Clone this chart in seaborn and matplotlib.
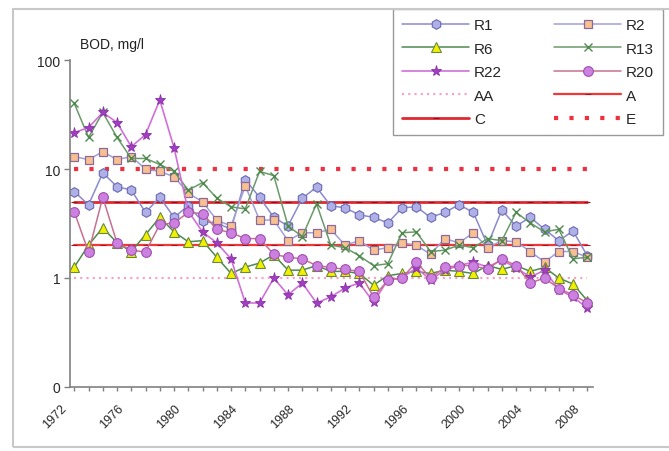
import numpy as np
import pandas as pd
import matplotlib
matplotlib.use("Agg")
import matplotlib.pyplot as plt
import matplotlib.ticker as mticker
import matplotlib.transforms as mtransforms
from matplotlib.patches import Rectangle
import seaborn as sns

# BOD, mg/l per station, 1972-2008
years = list(range(1972, 2009))
r1 = [6.2, 4.7, 9.2, 6.9, 6.4, 4.0, 5.5, 3.6, 4.6, 3.3, 3.2, 2.8, 8.0, 5.5, 3.6, 3.0, 5.4, 6.8, 4.6,
      4.4, 3.8, 3.6, 3.2, 4.4, 4.5, 3.6, 4.0, 4.7, 4.0, 2.0, 4.2, 3.0, 3.6, 2.8, 2.2, 2.7, 1.6]
r2 = [13.0, 12.2, 14.4, 12.2, 13.0, 10.0, 9.5, 8.5, 6.0, 5.0, 3.4, 3.0, 7.0, 3.4, 3.4, 2.2, 2.6, 2.6, 2.8,
      2.0, 2.2, 1.8, 1.9, 2.1, 2.0, 1.65, 2.3, 2.1, 2.6, 1.9, 2.2, 2.15, 1.75, 1.4, 1.75, 1.75, 1.55]
r6 = [1.26, 2.0, 2.9, 2.1, 1.75, 2.5, 3.6, 2.65, 2.15, 2.2, 1.55, 1.1, 1.26, 1.37, 1.63, 1.18, 1.18, 1.3, 1.15,
      1.15, 1.1, 0.86, 1.05, 1.1, 1.15, 1.1, 1.18, 1.15, 1.1, 1.3, 1.2, 1.3, 1.15, 1.25, 1.0, 0.88, 0.62]
r13 = [40, 19.5, 33, 19.5, 12.5, 12.5, 11, 9.5, 6.4, 7.5, 5.4, 4.5, 4.3, 9.5, 8.7, 3.0, 2.4, 4.8, 2.0,
       1.9, 1.6, 1.3, 1.35, 2.6, 2.65, 1.75, 1.8, 2.0, 1.9, 2.3, 2.2, 4.0, 3.2, 2.65, 2.8, 1.5, 1.55]
r22 = [21.6, 24, 33, 26.7, 16, 20.7, 43, 15.7, 4.1, 2.65, 2.1, 1.5, 0.59, 0.59, 1.0, 0.70, 0.9, 0.59, 0.67,
       0.81, 0.9, 0.6, 0.96, 1.0, 1.24, 0.96, 1.18, 1.3, 1.4, 1.26, 1.46, 1.24, 1.02, 1.18, 0.78, 0.67, 0.53]
r20 = [4.05, 1.73, 5.5, 2.1, 1.8, 1.73, 3.1, 3.2, 4.0, 3.9, 2.8, 2.6, 2.3, 2.3, 1.65, 1.55, 1.5, 1.3, 1.25,
       1.2, 1.15, 0.67, 0.95, 1.0, 1.4, 1.0, 1.25, 1.3, 1.3, 1.2, 1.5, 1.3, 0.9, 1.0, 0.8, 0.7, 0.59]

# water quality class limits
class_levels = {"AA": 1, "A": 2, "C": 5, "E": 10}

y_ticks = [0.1, 1, 10, 100]
y_tick_labels = ["0", "1", "10", "100"]
x_label_years = list(range(1972, 2009, 4))

sns.set_theme(style="white")
plt.rcParams["font.family"] = ["Liberation Sans", "DejaVu Sans"]

fig = plt.figure(figsize=(6.69, 4.52), dpi=100)
ax = fig.add_axes([70 / 669, 1 - 388 / 452, 523 / 669, 327 / 452])

# chart area border
fig.patches.append(Rectangle((13 / 669, 1 - 448 / 452), 1.0, 438 / 452, transform=fig.transFigure,
                             fill=False, edgecolor="#c8c8c8", linewidth=1.5, clip_on=False))

n = len(years)

# class limit lines
sns.lineplot(x=years, y=np.full(n, class_levels["AA"]), ax=ax, color="#ff9cc0",
             linewidth=1.5, linestyle=(0, (1, 2)), label="AA")
sns.lineplot(x=years, y=np.full(n, class_levels["A"]), ax=ax, color="#f03838",
             linewidth=1.6, marker="_", markersize=5, markeredgecolor="#a01828", label="A")
sns.lineplot(x=years, y=np.full(n, class_levels["C"]), ax=ax, color="#e02830",
             linewidth=2.0, marker="_", markersize=5, markeredgecolor="#901020", label="C")
sns.lineplot(x=years, y=np.full(n, class_levels["E"]), ax=ax, color="#f03040",
             linewidth=3.0, linestyle=(0, (1, 2.7)), label="E")

# stations
sns.lineplot(x=years, y=r1, ax=ax, color="#8a8ad0", linewidth=1.1, marker="h", markersize=7,
             markerfacecolor="#b0b0e8", markeredgecolor="#6a6ab0", markeredgewidth=0.8, label="R1")
sns.lineplot(x=years, y=r2, ax=ax, color="#a0a0d8", linewidth=1.1, marker="s", markersize=6,
             markerfacecolor="#f8c090", markeredgecolor="#8a6a9a", markeredgewidth=0.9, label="R2")
sns.lineplot(x=years, y=r6, ax=ax, color="#4e8a4e", linewidth=1.1, marker="^", markersize=7,
             markerfacecolor="#f0f000", markeredgecolor="#6a8a3a", markeredgewidth=0.8, label="R6")
sns.lineplot(x=years, y=r13, ax=ax, color="#6a9a6a", linewidth=1.1, marker="x", markersize=6,
             markeredgecolor="#4e8a4e", markeredgewidth=1.0, label="R13")
sns.lineplot(x=years, y=r22, ax=ax, color="#d070d8", linewidth=1.2, marker="*", markersize=8,
             markerfacecolor="#a040c0", markeredgecolor="#8a30a8", markeredgewidth=0.6, label="R22")
sns.lineplot(x=years, y=r20, ax=ax, color="#c87090", linewidth=1.1, marker="o", markersize=7,
             markerfacecolor="#cc80e0", markeredgecolor="#a050b0", markeredgewidth=0.8, label="R20")

ax.set_yscale("log")
ax.set_ylim(0.1, 100)
ax.set_xlim(1971.7, 2008.4)
ax.yaxis.set_major_locator(mticker.FixedLocator(y_ticks))
ax.yaxis.set_minor_locator(mticker.NullLocator())
ax.set_yticklabels(y_tick_labels)
ax.set_xticks(years)
ax.set_xticklabels([str(y) if y in x_label_years else "" for y in years],
                   rotation=45, ha="right", rotation_mode="anchor")
ax.tick_params(axis="y", which="major", direction="out", length=4, width=1, color="#808080",
               labelsize=10, pad=3, left=True)
ax.tick_params(axis="x", which="major", direction="out", length=3, width=1, color="#808080",
               labelsize=9, pad=4, bottom=True)
# shift the rotated year labels down-left like the original
shift = mtransforms.ScaledTranslation(-14 / 100, -5 / 100, fig.dpi_scale_trans)
for lbl in ax.get_xticklabels():
    lbl.set_transform(lbl.get_transform() + shift)
ax.set_xlabel("")
ax.set_ylabel("")
for side in ["top", "right"]:
    ax.spines[side].set_visible(False)
for side in ["left", "bottom"]:
    ax.spines[side].set_color("#808080")
    ax.spines[side].set_linewidth(1.2)

fig.text(80 / 669, 1 - 45 / 452, "BOD, mg/l", fontsize=10, va="center", ha="left", color="#222222")

# legend: two columns, filled column by column
handles, labels = ax.get_legend_handles_labels()
lookup = dict(zip(labels, handles))
order = ["R1", "R6", "R22", "AA", "C", "R2", "R13", "R20", "A", "E"]
leg = ax.legend([lookup[k] for k in order], order, ncol=2, loc="upper left",
                bbox_to_anchor=(393 / 669, 1 - 10 / 452), bbox_transform=fig.transFigure,
                fontsize=11, handlelength=4.4, handletextpad=0.3, columnspacing=3.4,
                labelspacing=0.62, borderaxespad=0, borderpad=0.6, frameon=True, fancybox=False)
leg.get_frame().set_edgecolor("#808080")
leg.get_frame().set_linewidth(1.0)

fig.savefig("out.png", dpi=100)
